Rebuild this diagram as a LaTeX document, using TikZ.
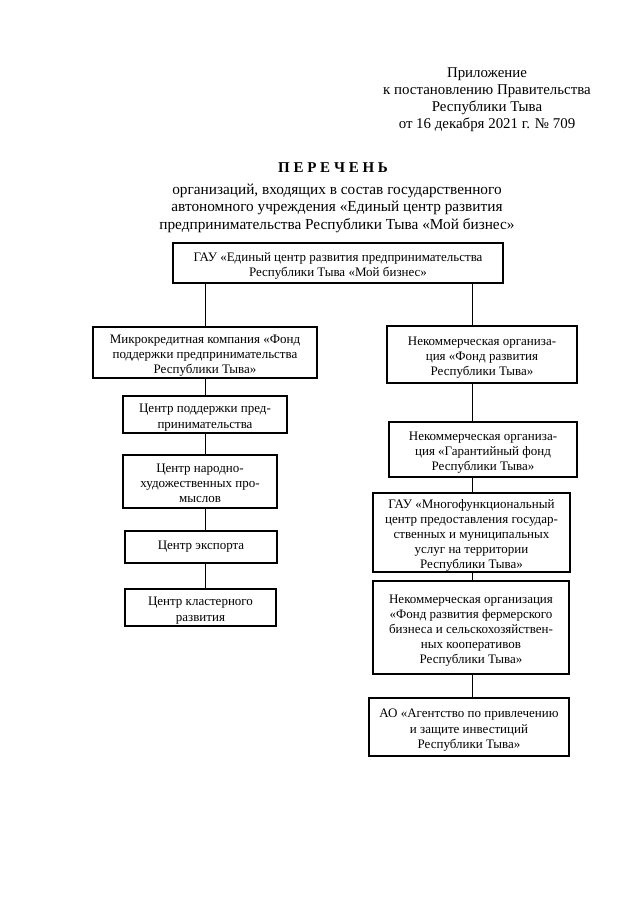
\documentclass[tikz,border=0pt]{standalone}
\usepackage{fontspec}
\setmainfont{Liberation Serif}
\newcommand\lowtext[2][-3pt]{\raisebox{#1}[\height][\depth]{\begin{tabular}{@{}c@{}}#2\end{tabular}}}
\begin{document}
\begin{tikzpicture}[x=1pt,y=-1pt,
  box/.style={draw, line width=1.2pt, inner sep=0pt,
    font=\fontsize{13}{15.2}\selectfont},
  link/.style={line width=0.8pt},
  hdr/.style={align=center, inner sep=0pt, font=\fontsize{14.9}{17}\selectfont}]
\useasboundingbox[fill=white] (0,0) rectangle (640,905);

% header
\node[hdr] (head) at (487,100) {Приложение\\к постановлению Правительства\\Республики Тыва\\от 16 декабря 2021 г. № 709};
\node[hdr, font=\fontsize{15}{17}\selectfont\bfseries] (title) at (333,168) {П Е Р Е Ч Е Н Ь};
\node[hdr, font=\fontsize{15.3}{17.5}\selectfont] (sub) at (337,208) {организаций, входящих в состав государственного\\автономного учреждения «Единый центр развития\\предпринимательства Республики Тыва «Мой бизнес»};

% top box
\node[box, minimum width=330pt, minimum height=40pt] (top) at (338,263) {\lowtext{ГАУ «Единый центр развития предпринимательства\\Республики Тыва «Мой бизнес»}};

% left column
\node[box, minimum width=224pt, minimum height=51pt] (m1) at (205,352.5) {\lowtext{Микрокредитная компания «Фонд\\поддержки предпринимательства\\Республики Тыва»}};
\node[box, minimum width=164pt, minimum height=37pt] (m2) at (205,414.5) {\lowtext{Центр поддержки пред-\\принимательства}};
\node[box, minimum width=154pt, minimum height=53pt] (m3) at (200,481.5) {\lowtext{Центр народно-\\художественных про-\\мыслов}};
\node[box, minimum width=152pt, minimum height=32pt] (m4) at (201,547) {\lowtext[1pt]{Центр экспорта}};
\node[box, minimum width=151pt, minimum height=37pt] (m5) at (200.5,607.5) {\lowtext{Центр кластерного\\развития}};

% right column
\node[box, minimum width=190pt, minimum height=57pt] (r1) at (482,354.5) {\lowtext{Некоммерческая организа-\\ция «Фонд развития\\Республики Тыва»}};
\node[box, minimum width=188pt, minimum height=55pt] (r2) at (483,449.5) {\lowtext{Некоммерческая организа-\\ция «Гарантийный фонд\\Республики Тыва»}};
\node[box, minimum width=197pt, minimum height=79pt] (r3) at (471.5,532.5) {\lowtext{ГАУ «Многофункциональный\\центр предоставления государ-\\ственных и муниципальных\\услуг на территории\\Республики Тыва»}};
\node[box, minimum width=196pt, minimum height=93pt] (r4) at (471,627.5) {\lowtext{Некоммерческая организация\\«Фонд развития фермерского\\бизнеса и сельскохозяйствен-\\ных кооперативов\\Республики Тыва»}};
\node[box, minimum width=200pt, minimum height=58pt] (r5) at (469,727) {\lowtext{АО «Агентство по привлечению\\и защите инвестиций\\Республики Тыва»}};

% connector axes
\coordinate (xl) at (205,0);
\coordinate (xr) at (472,0);

\draw[link] (top.south -| xl) -- (m1.north -| xl);
\draw[link] (m1.south -| xl) -- (m2.north -| xl);
\draw[link] (m2.south -| xl) -- (m3.north -| xl);
\draw[link] (m3.south -| xl) -- (m4.north -| xl);
\draw[link] (m4.south -| xl) -- (m5.north -| xl);

\draw[link] (top.south -| xr) -- (r1.north -| xr);
\draw[link] (r1.south -| xr) -- (r2.north -| xr);
\draw[link] (r2.south -| xr) -- (r3.north -| xr);
\draw[link] (r3.south -| xr) -- (r4.north -| xr);
\draw[link] (r4.south -| xr) -- (r5.north -| xr);
\end{tikzpicture}
\end{document}
